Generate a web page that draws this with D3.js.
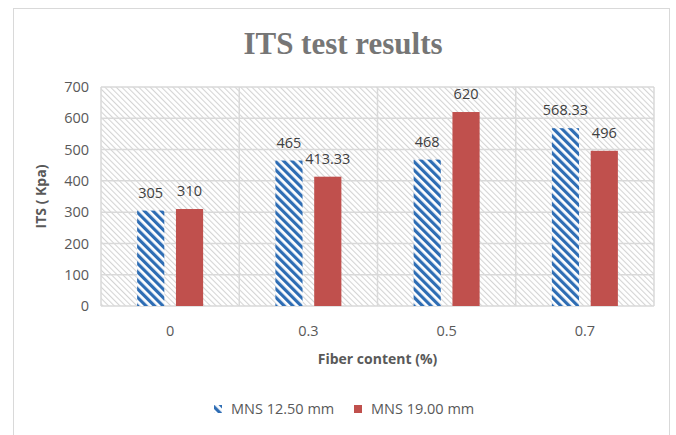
<!DOCTYPE html>
<html>
<head>
<meta charset="utf-8">
<script src="https://cdn.jsdelivr.net/npm/d3@7"></script>
<style>
  body { margin: 0; background: #fff; }
  svg { display: block; }
</style>
</head>
<body>
<svg width="676" height="435"></svg>
<script>
const categories = ["0", "0.3", "0.5", "0.7"];
const seriesNames = ["MNS 12.50 mm", "MNS 19.00 mm"];
const mns1250 = [305, 465, 468, 568.33];
const mns1900 = [310, 413.33, 620, 496];
const yTicks = [0, 100, 200, 300, 400, 500, 600, 700];

const rows = categories.map((c, i) => ({ cat: c, vals: [mns1250[i], mns1900[i]] }));

const svg = d3.select("svg");
const plot = { left: 101, right: 654, top: 87, bottom: 306 };
const font = "'Open Sans', 'Noto Sans', sans-serif";

const defs = svg.append("defs");
// plot area light hatch
const bgPat = defs.append("pattern")
    .attr("id", "bgHatch")
    .attr("patternUnits", "userSpaceOnUse")
    .attr("width", 4).attr("height", 4)
    .attr("patternTransform", "rotate(-45)");
bgPat.append("rect").attr("width", 4).attr("height", 4).attr("fill", "#fff");
bgPat.append("line").attr("x1", 0.5).attr("y1", 0).attr("x2", 0.5).attr("y2", 4)
    .attr("stroke", "#d4d4d4").attr("stroke-width", 1.1);

// blue bar wide diagonal pattern
const bluePat = defs.append("pattern")
    .attr("id", "blueHatch")
    .attr("patternUnits", "userSpaceOnUse")
    .attr("width", 6).attr("height", 6)
    .attr("patternTransform", "rotate(-45)");
bluePat.append("rect").attr("width", 6).attr("height", 6).attr("fill", "#fff");
bluePat.append("rect").attr("width", 3.2).attr("height", 6).attr("fill", "#2e6db4");

const colors = ["url(#blueHatch)", "#c0504d"];

// outer chart border
svg.append("rect")
    .attr("x", 13.5).attr("y", 8.5)
    .attr("width", 656).attr("height", 440)
    .attr("fill", "none").attr("stroke", "#d9d9d9");

const x0 = d3.scaleBand()
    .domain(categories)
    .range([plot.left, plot.right])
    .padding(0);

const bw = x0.bandwidth();
const x1 = d3.scaleBand()
    .domain([0, 1])
    .range([bw / 2 - 33, bw / 2 + 33])
    .paddingInner(0.3);

const y = d3.scaleLinear()
    .domain([0, 700])
    .range([plot.bottom, plot.top]);

// plot background
svg.append("rect")
    .attr("x", plot.left).attr("y", plot.top)
    .attr("width", plot.right - plot.left).attr("height", plot.bottom - plot.top)
    .attr("fill", "url(#bgHatch)");

// gridlines
svg.append("g")
    .selectAll("line")
    .data(yTicks)
    .join("line")
    .attr("x1", plot.left).attr("x2", plot.right)
    .attr("y1", d => y(d)).attr("y2", d => y(d))
    .attr("stroke", "#d9d9d9").attr("stroke-width", 1.5);

const vBounds = categories.map(c => x0(c)).concat([plot.right]);
svg.append("g")
    .selectAll("line")
    .data(vBounds)
    .join("line")
    .attr("x1", d => d).attr("x2", d => d)
    .attr("y1", plot.top).attr("y2", plot.bottom)
    .attr("stroke", "#d9d9d9").attr("stroke-width", 1.5);

// y axis labels
const yAxis = svg.append("g")
    .attr("transform", `translate(${plot.left - 12},0)`)
    .call(d3.axisLeft(y).tickValues(yTicks).tickSize(0).tickPadding(0));
yAxis.select(".domain").remove();
yAxis.selectAll("text")
    .attr("font-family", font).attr("font-size", 14.5).attr("fill", "#595959");

// x axis labels
const xAxis = svg.append("g")
    .attr("transform", `translate(0,${plot.bottom})`)
    .call(d3.axisBottom(x0).tickSize(0).tickPadding(20));
xAxis.select(".domain").remove();
xAxis.selectAll("text")
    .attr("font-family", font).attr("font-size", 14.5).attr("fill", "#595959");

// bars
const groups = svg.append("g")
    .selectAll("g")
    .data(rows)
    .join("g")
    .attr("transform", d => `translate(${x0(d.cat)},0)`);

groups.selectAll("rect")
    .data(d => d.vals)
    .join("rect")
    .attr("x", (d, i) => x1(i))
    .attr("y", d => y(d))
    .attr("width", x1.bandwidth())
    .attr("height", d => y(0) - y(d))
    .attr("fill", (d, i) => colors[i]);

groups.selectAll("text")
    .data(d => d.vals)
    .join("text")
    .attr("x", (d, i) => x1(i) + x1.bandwidth() / 2)
    .attr("y", d => y(d) - 13)
    .attr("text-anchor", "middle")
    .attr("font-family", font).attr("font-size", 14.5).attr("fill", "#404040")
    .text(d => d);

// title
svg.append("text")
    .attr("x", 343).attr("y", 54)
    .attr("text-anchor", "middle")
    .attr("font-family", "'Liberation Serif', serif")
    .attr("font-weight", "bold").attr("font-size", 31)
    .attr("fill", "#767676")
    .text("ITS test results");

// axis titles
svg.append("text")
    .attr("x", (plot.left + plot.right) / 2).attr("y", 364)
    .attr("text-anchor", "middle")
    .attr("font-family", font).attr("font-weight", "bold").attr("font-size", 14)
    .attr("fill", "#595959")
    .text("Fiber content (%)");

svg.append("text")
    .attr("transform", `translate(46,${(plot.top + plot.bottom) / 2}) rotate(-90)`)
    .attr("text-anchor", "middle")
    .attr("font-family", font).attr("font-weight", "bold").attr("font-size", 14)
    .attr("fill", "#595959")
    .text("ITS ( Kpa)");

// legend
const legendX = [214, 354];
const legend = svg.append("g")
    .selectAll("g")
    .data(seriesNames)
    .join("g")
    .attr("transform", (d, i) => `translate(${legendX[i]},409)`);
legend.append("rect")
    .attr("x", 0).attr("y", -4)
    .attr("width", 8).attr("height", 8)
    .attr("fill", (d, i) => colors[i]);
legend.append("text")
    .attr("x", 17).attr("y", 5)
    .attr("font-family", font).attr("font-size", 14.5).attr("fill", "#595959")
    .text(d => d);
</script>
</body>
</html>
